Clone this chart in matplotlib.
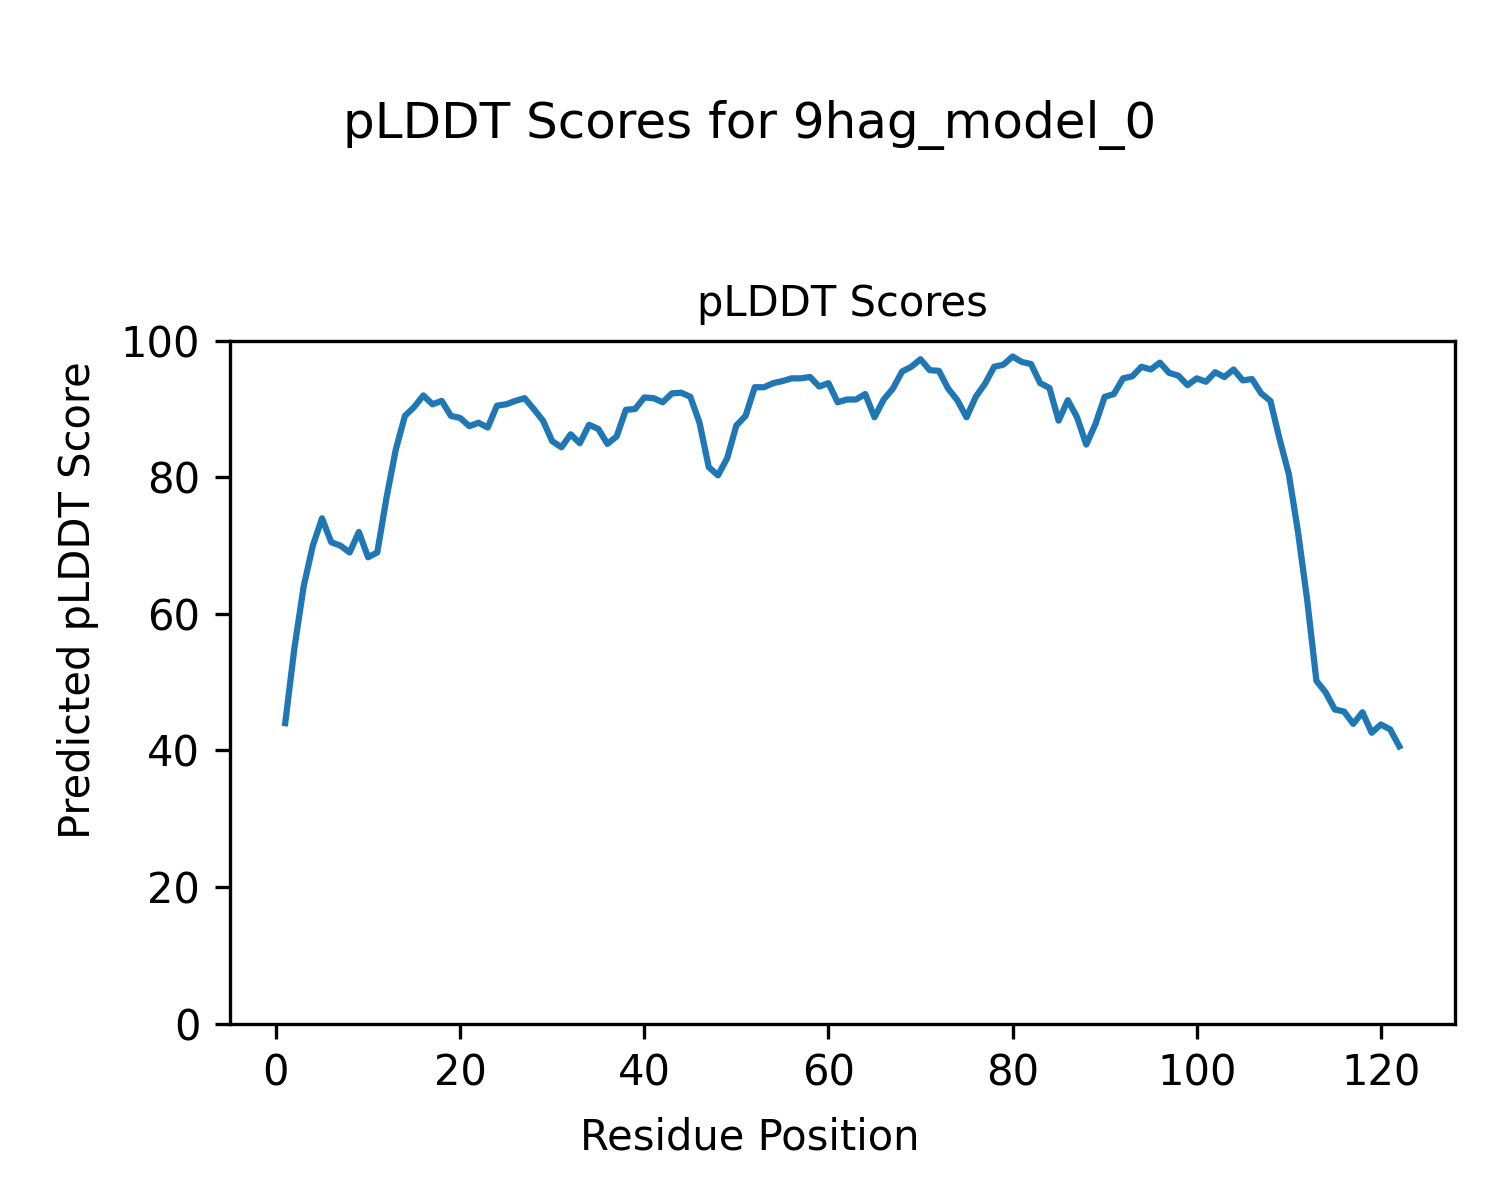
import matplotlib
matplotlib.use("Agg")
import matplotlib.pyplot as plt

# pLDDT per residue
residues = list(range(1, 123))
plddt = [
    44.0, 55.0, 64.0, 70.0, 74.0, 70.5, 70.0, 69.0, 72.0, 68.3,
    69.0, 77.0, 84.0, 89.0, 90.3, 92.0, 90.7, 91.2, 89.0, 88.7,
    87.5, 88.0, 87.3, 90.5, 90.7, 91.2, 91.6, 90.0, 88.3, 85.3,
    84.4, 86.3, 85.0, 87.7, 87.1, 84.9, 86.0, 89.9, 90.0, 91.7,
    91.6, 91.0, 92.3, 92.4, 91.8, 88.0, 81.5, 80.3, 82.8, 87.6,
    89.0, 93.2, 93.2, 93.8, 94.1, 94.5, 94.5, 94.7, 93.3, 93.8,
    91.0, 91.4, 91.4, 92.2, 88.8, 91.4, 93.0, 95.5, 96.2, 97.3,
    95.7, 95.6, 93.0, 91.3, 88.8, 91.8, 93.7, 96.2, 96.5, 97.7,
    96.9, 96.6, 93.8, 93.1, 88.3, 91.3, 88.8, 84.8, 87.8, 91.8,
    92.2, 94.5, 94.8, 96.2, 95.8, 96.8, 95.3, 94.9, 93.5, 94.5,
    94.0, 95.4, 94.7, 95.8, 94.2, 94.4, 92.3, 91.2, 85.6, 80.5,
    72.0, 62.0, 50.2, 48.5, 46.0, 45.7, 43.9, 45.6, 42.6, 43.8,
    43.1, 40.6,
]

fig, ax = plt.subplots(figsize=(5, 4), dpi=300)
fig.subplots_adjust(left=0.153, right=0.97, top=0.716, bottom=0.147)

ax.plot(residues, plddt, color="#1f77b4")
ax.set_ylim(0, 100)
ax.set_title("pLDDT Scores", fontsize=10)

# labels belong to the figure, not the axes
fig.supxlabel("Residue Position", fontsize=10, y=0.052, va="center")
fig.supylabel("Predicted pLDDT Score", fontsize=10, x=0.052, ha="center")
fig.suptitle("pLDDT Scores for 9hag_model_0", y=0.917)

fig.savefig("out.png", dpi=300)
